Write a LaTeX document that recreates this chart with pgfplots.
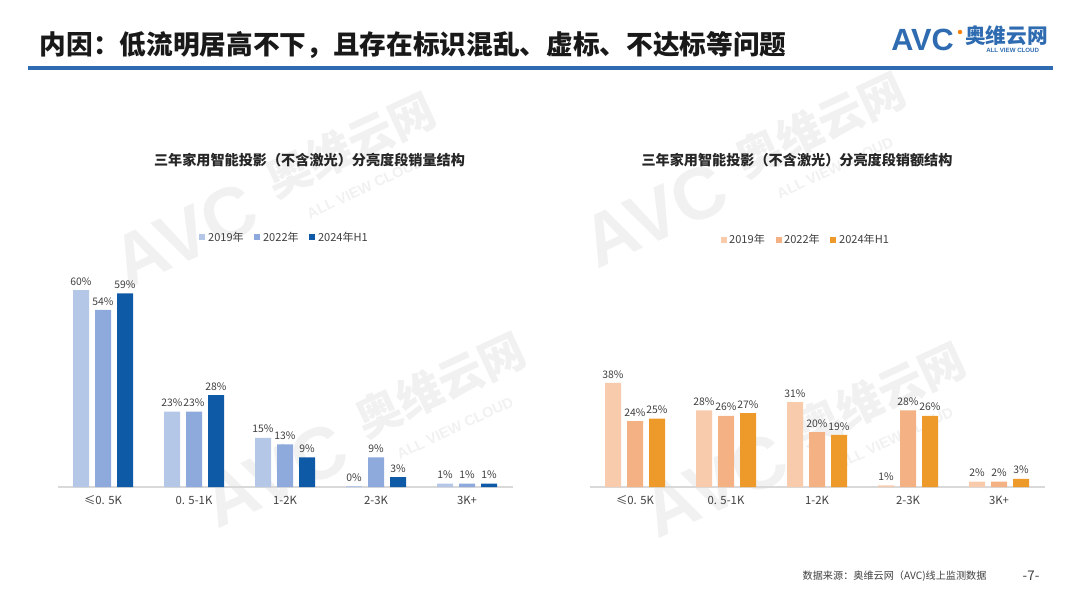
\documentclass[border=0pt]{standalone}
\usepackage{pgfplots}
\pgfplotsset{compat=1.18}
\usepackage{fontspec}
\setmainfont{Noto Sans CJK SC}
\newfontfamily\logofont{Liberation Sans}
\definecolor{b1}{HTML}{B4C7E7}
\definecolor{b2}{HTML}{8EA9DB}
\definecolor{b3}{HTML}{0F5AA6}
\definecolor{o1}{HTML}{F8CBAD}
\definecolor{o2}{HTML}{F4B183}
\definecolor{o3}{HTML}{EE9A2B}
\definecolor{txt}{HTML}{404040}
\definecolor{hblue}{HTML}{2E6BB0}
\definecolor{wm}{HTML}{F1F1F1}
\begin{document}
\begin{tikzpicture}
\useasboundingbox (0,0) rectangle (810pt,456pt);
% watermarks
\begin{scope}[x=0.75pt,y=-0.75pt,shift={(0,-608)}]
\foreach \wx/\wy in {230/210, 700/190, 320/450, 760/460}{
  \node[rotate=25,text=wm,font=\logofont\bfseries\fontsize{55}{55}\selectfont] at (\wx-45,\wy+25) {AVC};
  \node[rotate=25,text=wm,font=\bfseries\fontsize{34}{34}\selectfont] at (\wx+120,\wy-65) {奥维云网};
  \node[rotate=25,text=wm,font=\logofont\bfseries\fontsize{11}{11}\selectfont] at (\wx+135,\wy-22) {ALL VIEW CLOUD};
}
\end{scope}
\pgfplotsset{
  mybar/.style={
    ybar=4.5pt, bar width=12pt,
    scale only axis, width=341.25pt,
    xmin=-0.5, xmax=4.5, ymin=0, ymax=70,
    axis y line=none, axis x line*=bottom,
    axis line style={draw=black!15, line width=0.8pt},
    xtick={0,1,2,3,4}, major tick length=0pt,
    xticklabels={≤0. 5K,0. 5-1K,1-2K,2-3K,3K+},
    xticklabel style={font=\fontsize{8.5}{9}\selectfont, text=txt, yshift=-3pt},
    /pgf/number format/assume math mode=true,
    nodes near coords={\pgfmathprintnumber[fixed,precision=0]{\pgfplotspointmeta}\%},
    nodes near coords style={font=\fontsize{7.8}{8}\selectfont, text=txt},
    legend columns=3,
    legend style={draw=none, fill=none, font=\fontsize{8.3}{9}\selectfont, text=txt,
      /tikz/every even column/.append style={column sep=6pt}},
    legend image code/.code={\fill[##1] (0pt,-2pt) rectangle (4.5pt,2.5pt);},
    every axis plot/.append style={draw=none},
    clip=false,
  }
}
\begin{axis}[mybar, at={(43.125pt,90.75pt)}, height=172.2pt,
  legend style={at={(0.5,1.087)}, anchor=center}]
\addplot[fill=b1] coordinates {(0,60) (1,23) (2,15) (3,0.3) (4,1)};
\addplot[fill=b2] coordinates {(0,54) (1,23) (2,13) (3,9) (4,1)};
\addplot[fill=b3] coordinates {(0,59) (1,28) (2,9) (3,3) (4,1)};
\legend{2019年,2022年,2024年H1}
\end{axis}
\begin{axis}[mybar, at={(442.125pt,90.75pt)}, height=143.85pt,
  legend style={at={(0.476,1.287)}, anchor=center}]
\addplot[fill=o1] coordinates {(0,38) (1,28) (2,31) (3,0.6) (4,2)};
\addplot[fill=o2] coordinates {(0,24) (1,26) (2,20) (3,28) (4,2)};
\addplot[fill=o3] coordinates {(0,25) (1,27) (2,19) (3,26) (4,3)};
\legend{2019年,2022年,2024年H1}
\end{axis}
\begin{scope}[x=0.75pt,y=-0.75pt,shift={(0,-608)}]
% header
\node[anchor=west, font=\bfseries\fontsize{20}{22}\selectfont, text=black!90] at (35,45) {内因：低流明居高不下，且存在标识混乱、虚标、不达标等问题};
\draw[hblue, line width=2.3pt] (28,68) -- (1053,68);
% logo
\node[anchor=west, inner sep=0pt, font=\logofont\bfseries\fontsize{23}{23}\selectfont, text=hblue] at (891,40) {AVC};
\fill[orange] (960,32) circle (2.2);
\node[anchor=west, inner sep=0pt, font=\bfseries\fontsize{15.5}{16}\selectfont, text=hblue] at (965,36) {奥维云网};
\node[anchor=west, inner sep=0pt, font=\logofont\bfseries\fontsize{4.6}{5}\selectfont, text=hblue] at (986,50) {ALL VIEW CLOUD};
% chart titles
\node[font=\bfseries\fontsize{10.6}{12}\selectfont, text=black!85] at (309.5,160) {三年家用智能投影（不含激光）分亮度段销量结构};
\node[font=\bfseries\fontsize{10.6}{12}\selectfont, text=black!85] at (797,160) {三年家用智能投影（不含激光）分亮度段销额结构};
% footer
\node[anchor=west, font=\fontsize{7.6}{8}\selectfont, text=txt] at (798,576) {数据来源：奥维云网（AVC)线上监测数据};
\node[anchor=west, font=\fontsize{10}{10}\selectfont, text=txt] at (1018,576) {-7-};
\end{scope}
\end{tikzpicture}
\end{document}
